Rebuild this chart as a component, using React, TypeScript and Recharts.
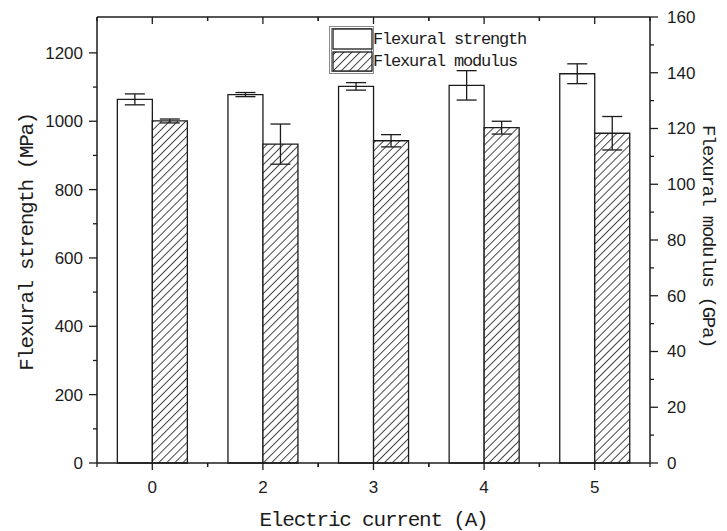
import {
  Bar,
  BarChart,
  ErrorBar,
  Label,
  Legend,
  XAxis,
  YAxis,
} from 'recharts'

const currents = ['0', '2', '3', '4', '5']
const strength = [1064, 1078, 1102, 1105, 1139]
const strengthErr = [16, 6, 11, 43, 29]
const modulus = [122.7, 114.4, 115.6, 120.3, 118.3]
const modulusErr = [0.7, 7.2, 2.2, 2.3, 6.0]

const leftTicks = [0, 100, 200, 300, 400, 500, 600, 700, 800, 900, 1000, 1100, 1200]
const rightTicks = [0, 10, 20, 30, 40, 50, 60, 70, 80, 90, 100, 110, 120, 130, 140, 150, 160]

const data = currents.map((c, i) => ({
  current: c,
  strength: strength[i],
  strengthErr: strengthErr[i],
  modulus: modulus[i],
  modulusErr: modulusErr[i],
}))

const INK = '#1c1c1c'
const MONO = '"Liberation Mono", "DejaVu Sans Mono", monospace'
const SANS = '"Liberation Sans", Arial, sans-serif'

function LeftTick({ x, y, payload }: any) {
  const major = payload.value % 200 === 0
  return (
    <g>
      <line x1={x} x2={x - (major ? 8 : 4)} y1={y} y2={y} stroke={INK} strokeWidth={1.3} />
      {major && (
        <text x={x - 14} y={y} dy="0.35em" textAnchor="end" fontSize={17} fontFamily={SANS} fill={INK}>
          {payload.value}
        </text>
      )}
    </g>
  )
}

function RightTick({ x, y, payload }: any) {
  const major = payload.value % 20 === 0
  return (
    <g>
      <line x1={x} x2={x + (major ? 8 : 4)} y1={y} y2={y} stroke={INK} strokeWidth={1.3} />
      {major && (
        <text x={x + 17} y={y} dy="0.35em" textAnchor="start" fontSize={17} fontFamily={SANS} fill={INK}>
          {payload.value}
        </text>
      )}
    </g>
  )
}

function BottomTick({ x, y, payload }: any) {
  const half = payload.offset || 55.3
  return (
    <g>
      <line x1={x} x2={x} y1={y} y2={y + 7} stroke={INK} strokeWidth={1.3} />
      <line x1={x - half} x2={x - half} y1={y} y2={y + 4} stroke={INK} strokeWidth={1.3} />
      <line x1={x + half} x2={x + half} y1={y} y2={y + 4} stroke={INK} strokeWidth={1.3} />
      <text x={x} y={y + 24} dy="0.35em" textAnchor="middle" fontSize={17} fontFamily={SANS} fill={INK}>
        {payload.value}
      </text>
    </g>
  )
}

function TopTick({ x, y, payload }: any) {
  const half = payload.offset || 55.3
  return (
    <g>
      <line x1={x} x2={x} y1={y} y2={y + 7} stroke={INK} strokeWidth={1.3} />
      <line x1={x - half} x2={x - half} y1={y} y2={y + 4} stroke={INK} strokeWidth={1.3} />
      <line x1={x + half} x2={x + half} y1={y} y2={y + 4} stroke={INK} strokeWidth={1.3} />
    </g>
  )
}

function LegendBox() {
  return (
    <svg width={210} height={50} style={{ display: 'block' }}>
      <rect x={0.5} y={0.5} width={44} height={47} fill="none" stroke="#8a8a8a" strokeWidth={1} />
      <rect x={2.5} y={2.5} width={40} height={43} fill="none" stroke="#8a8a8a" strokeWidth={1} />
      <rect x={4} y={3} width={39} height={20} fill="#fff" stroke={INK} strokeWidth={1.3} />
      <rect x={4} y={26} width={39} height={19} fill="url(#hatch)" stroke={INK} strokeWidth={1.3} />
      <text x={44} y={18} fontSize={17} letterSpacing={-1.2} fontFamily={MONO} fill={INK}>
        Flexural strength
      </text>
      <text x={44} y={40} fontSize={17} letterSpacing={-1.2} fontFamily={MONO} fill={INK}>
        Flexural modulus
      </text>
    </svg>
  )
}

export default function App() {
  return (
    <div style={{ position: 'absolute', left: 0, top: 0, width: 727, height: 531, background: '#fff' }}>
      <BarChart
        width={727}
        height={531}
        data={data}
        margin={{ top: 0, right: 0, bottom: 0, left: 0 }}
        barCategoryGap="18.4%"
        barGap={0}
      >
        <defs>
          <pattern id="hatch" patternUnits="userSpaceOnUse" width={5.7} height={5.7} patternTransform="rotate(45)">
            <rect width={5.7} height={5.7} fill="#fff" />
            <line x1={0} y1={0} x2={0} y2={5.7} stroke={INK} strokeWidth={1.6} />
          </pattern>
        </defs>
        <XAxis
          dataKey="current"
          height={68}
          axisLine={{ stroke: INK, strokeWidth: 1.5 }}
          tickLine={false}
          tickSize={0}
          tickMargin={0}
          tick={<BottomTick />}
          interval={0}
        >
          <Label
            content={({ viewBox }: any) => (
              <text
                x={viewBox.x + viewBox.width / 2}
                y={viewBox.y + 63}
                textAnchor="middle"
                fontSize={21}
                letterSpacing={-1.2}
                fontFamily={MONO}
                fill={INK}
              >
                Electric current (A)
              </text>
            )}
          />
        </XAxis>
        <XAxis
          xAxisId="top"
          dataKey="current"
          orientation="top"
          height={17}
          axisLine={{ stroke: INK, strokeWidth: 1.5 }}
          tickLine={false}
          tickSize={0}
          tickMargin={0}
          tick={<TopTick />}
          interval={0}
        />
        <YAxis
          yAxisId="left"
          width={97}
          domain={[0, 1305]}
          ticks={leftTicks}
          interval={0}
          axisLine={{ stroke: INK, strokeWidth: 1.5 }}
          tickLine={false}
          tickSize={0}
          tickMargin={0}
          tick={<LeftTick />}
        >
          <Label
            content={({ viewBox }: any) => {
              const cx = viewBox.x + 27
              const cy = viewBox.y + viewBox.height / 2 + 2
              return (
                <text
                  x={cx}
                  y={cy}
                  transform={`rotate(-90 ${cx} ${cy})`}
                  textAnchor="middle"
                  dominantBaseline="central"
                  fontSize={21}
                  letterSpacing={-1.4}
                  fontFamily={MONO}
                  fill={INK}
                >
                  Flexural strength (MPa)
                </text>
              )
            }}
          />
        </YAxis>
        <YAxis
          yAxisId="right"
          orientation="right"
          width={77}
          domain={[0, 160]}
          ticks={rightTicks}
          interval={0}
          axisLine={{ stroke: INK, strokeWidth: 1.5 }}
          tickLine={false}
          tickSize={0}
          tickMargin={0}
          tick={<RightTick />}
        >
          <Label
            content={({ viewBox }: any) => {
              const cx = viewBox.x + 58
              const cy = viewBox.y + viewBox.height / 2 - 4
              return (
                <text
                  x={cx}
                  y={cy}
                  transform={`rotate(90 ${cx} ${cy})`}
                  textAnchor="middle"
                  dominantBaseline="central"
                  fontSize={19}
                  letterSpacing={-1.3}
                  fontFamily={MONO}
                  fill={INK}
                >
                  Flexural modulus (GPa)
                </text>
              )
            }}
          />
        </YAxis>
        <Legend
          layout="vertical"
          align="center"
          verticalAlign="middle"
          content={() => <LegendBox />}
          wrapperStyle={{ position: 'absolute', left: 329, top: 26, width: 210, height: 50 }}
        />
        <Bar
          yAxisId="left"
          dataKey="strength"
          name="Flexural strength"
          fill="#fff"
          stroke={INK}
          strokeWidth={1.3}
          isAnimationActive={false}
        >
          <ErrorBar dataKey="strengthErr" width={10} stroke={INK} strokeWidth={1.3} />
        </Bar>
        <Bar
          yAxisId="right"
          dataKey="modulus"
          name="Flexural modulus"
          fill="url(#hatch)"
          stroke={INK}
          strokeWidth={1.3}
          isAnimationActive={false}
        >
          <ErrorBar dataKey="modulusErr" width={10} stroke={INK} strokeWidth={1.3} />
        </Bar>
      </BarChart>
    </div>
  )
}
